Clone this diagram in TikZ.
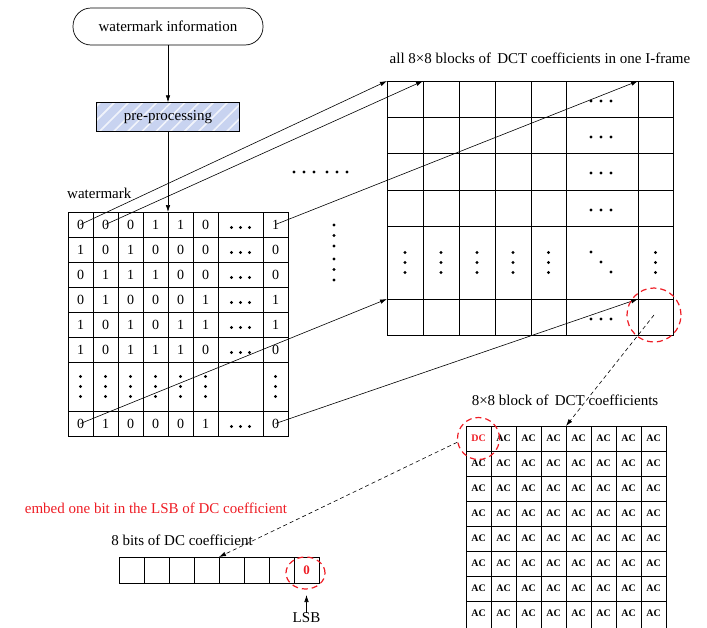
\documentclass[tikz,border=0pt]{standalone}
\usepackage{fontspec}
\setmainfont{Liberation Serif}
\usetikzlibrary{arrows.meta,patterns.meta,shapes.geometric}
\definecolor{hatchblue}{RGB}{200,211,240}
\definecolor{redd}{RGB}{238,28,36}
\begin{document}
\begin{tikzpicture}[x=1pt,y=-1pt,
  lbl/.style={inner sep=0pt, font=\fontsize{15}{18}\selectfont},
  dig/.style={inner sep=0pt, font=\fontsize{14}{16}\selectfont},
  acl/.style={inner sep=0pt, font=\fontsize{10}{11}\selectfont\bfseries},
  gl/.style={line width=0.8pt},
  arr/.style={-{Latex[length=7pt,width=4.5pt]}, line width=0.6pt},
  darr/.style={arr, dash pattern=on 4pt off 3pt},
  redring/.style={draw=redd, line width=1.2pt, dash pattern=on 6pt off 4pt, inner sep=0pt},
]
\useasboundingbox (0,0) rectangle (707,627);
\clip (0,0) rectangle (707,627);

% ---- top flow ----
\node[lbl, draw, line width=0.7pt, rounded corners=18pt, minimum width=190pt, minimum height=37pt] (info) at (168,26.5) {watermark information};
\node[lbl, minimum width=143pt, minimum height=29pt, fill=hatchblue,
      postaction={pattern={Lines[angle=45,distance=10pt,line width=1.6pt]}, pattern color=white!75!hatchblue},
      postaction={draw, line width=0.7pt}] (pre) at (168,117) {pre-processing};
\coordinate (wtop) at (168,212);
\draw[arr] (info) -- (pre);
\draw[arr] (pre) -- (wtop);

% ---- watermark grid ----
\node[lbl, anchor=west] (wmlabel) at (67,193) {watermark};
\draw[gl] (68,212) rectangle (288,436);
\foreach \x in {93,118,143,168,193,218,263} \draw[gl] (\x,212) -- (\x,436);
\foreach \y in {237,262,287,312,337,362,411} \draw[gl] (68,\y) -- (288,\y);

\foreach \vals/\yy/\r in {{0,0,0,1,1,0,1}/224.5/0, {1,0,1,0,0,0,0}/249.5/1, {0,1,1,1,0,0,0}/274.5/2,
                          {0,1,0,0,0,1,1}/299.5/3, {1,0,1,0,1,1,1}/324.5/4, {1,0,1,1,1,0,0}/349.5/5,
                          {0,1,0,0,0,1,0}/423.5/7}{
  \foreach \v [count=\c from 0] in \vals {
    \ifnum\c=6
      \node[dig] (w-\r-7) at (275.5,\yy) {\v};
    \else
      \node[dig] (w-\r-\c) at ({80.5+25*\c},\yy) {\v};
    \fi
  }
  \foreach \dx in {-9,0,9} \fill ({240.5+\dx},{\yy+3}) circle (1.6pt);
}
\foreach \xx in {80.5,105.5,130.5,155.5,180.5,205.5,275.5}
  \foreach \dy in {-10,0,10} \fill (\xx,{386.5+\dy}) circle (1.6pt);

% ---- dots between grids ----
\foreach \xx in {294,304,314,327,337,347} \fill (\xx,172) circle (1.6pt);
\foreach \yy in {225,235.5,246,259,269.5,280} \fill (334,\yy) circle (1.6pt);

% ---- big grid ----
\node[lbl] (bigtitle) at (540,58) {all 8\texttimes8 blocks of\, DCT coefficients in one I-frame};
\draw[gl] (387,81) rectangle (673,335);
\foreach \x in {423,459,495,531,566,638} \draw[gl] (\x,81) -- (\x,335);
\foreach \y in {117,153,190,226,299} \draw[gl] (387,\y) -- (673,\y);
\foreach \yy in {101,137,173,210,319}
  \foreach \xx in {591,601,611} \fill (\xx,\yy) circle (1.6pt);
\foreach \xx in {405,441,477,513,548.5,655.5}
  \foreach \yy in {252.5,262.5,272.5} \fill (\xx,\yy) circle (1.6pt);
\fill (591,252) circle (1.6pt);
\fill (601,262) circle (1.6pt);
\fill (611,272) circle (1.6pt);

\coordinate (B00) at (387,81);
\coordinate (B01) at (423,81);
\coordinate (B07) at (638,81);
\coordinate (B50) at (387,299);
\coordinate (B57) at (638,299);
\draw[arr] (w-0-0.center) -- (B00);
\draw[arr] (w-0-1.center) -- (B01);
\draw[arr] (w-0-7.center) -- (B07);
\draw[arr] (w-7-0.center) -- (B50);
\draw[arr] (w-7-7.center) -- (B57);

\node[redring, circle, minimum size=54pt] (bring) at (654,315) {};

% ---- 8x8 block ----
\node[lbl] (smalltitle) at (565,400) {8\texttimes8 block of\, DCT coefficients};
\draw[gl] (466,426) rectangle (666,628);
\foreach \x in {491,516,541,566,591,616,641} \draw[gl] (\x,426) -- (\x,628);
\foreach \y in {451,476,501,526,551,576,601} \draw[gl] (466,\y) -- (666,\y);
\foreach \r in {0,...,7}{
  \foreach \c in {0,...,7}{
    \ifnum\numexpr\r+\c\relax=0
      \node[acl, text=redd] (s-\r-\c) at ({478.5+25*\c},{438.5+25*\r}) {DC};
    \else
      \node[acl] (s-\r-\c) at ({478.5+25*\c},{438.5+25*\r}) {AC};
    \fi
  }
}
\node[redring, circle, minimum size=42pt] (dcring) at (478.5,438.5) {};
\coordinate (Stop) at (566,426);
\draw[darr] (bring.center) -- (Stop);

% ---- register ----
\node[lbl, text=redd] (embed) at (156,508) {embed one bit in the LSB of DC coefficient};
\node[lbl] (regtitle) at (182,540) {8 bits of DC coefficient};
\draw[gl] (119,557) rectangle (319,583);
\foreach \x in {144,169,194,219,244,269,294} \draw[gl] (\x,557) -- (\x,583);
\node[inner sep=0pt, font=\fontsize{13}{14}\selectfont\bfseries, text=redd] (bit0) at (306.5,570) {0};
\node[redring, ellipse, minimum width=39pt, minimum height=32pt] (lsbring) at (305.5,573) {};
\coordinate (Rtop) at (219,557);
\draw[darr] (dcring.190) -- (Rtop);
\node[lbl] (lsb) at (306.5,618) {LSB};
\coordinate (lsbtip) at (306.5,595);
\draw[arr] (lsb) -- (lsbtip);
\end{tikzpicture}
\end{document}
